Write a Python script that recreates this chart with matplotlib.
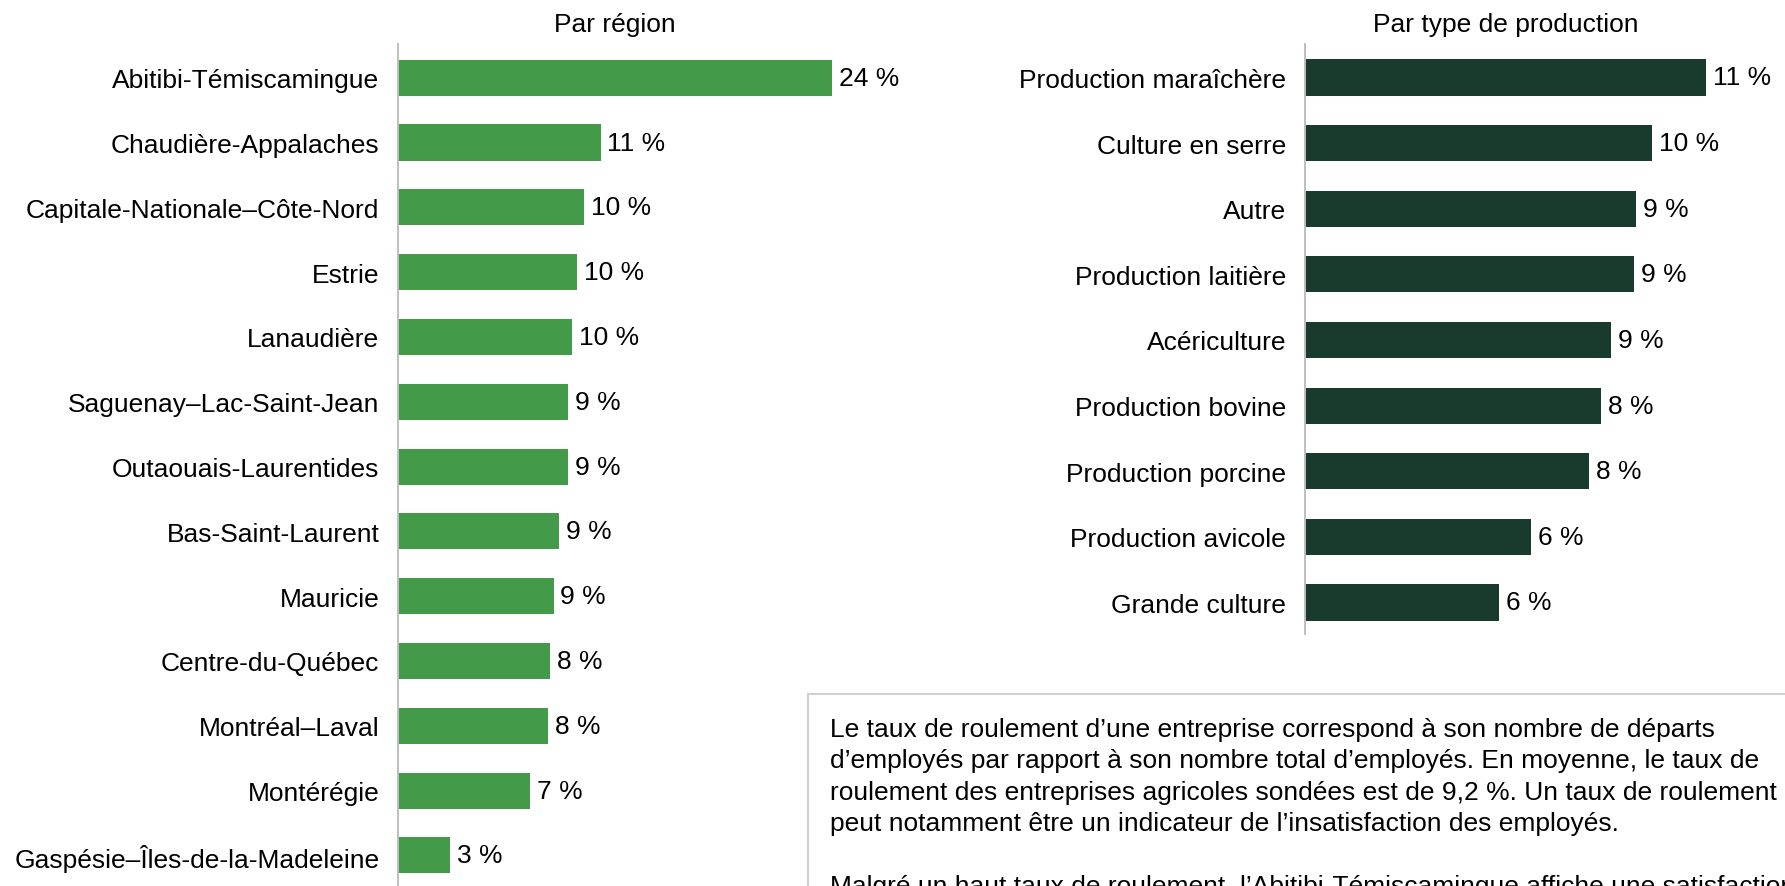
import matplotlib
matplotlib.use("Agg")
import matplotlib.pyplot as plt
from matplotlib.patches import Rectangle

plt.rcParams['font.family'] = ['Liberation Sans', 'DejaVu Sans']

regions = ["Abitibi-Témiscamingue", "Chaudière-Appalaches", "Capitale-Nationale–Côte-Nord",
           "Estrie", "Lanaudière", "Saguenay–Lac-Saint-Jean", "Outaouais-Laurentides",
           "Bas-Saint-Laurent", "Mauricie", "Centre-du-Québec", "Montréal–Laval",
           "Montérégie", "Gaspésie–Îles-de-la-Madeleine"]
region_values = [24.0, 11.2, 10.3, 9.9, 9.6, 9.4, 9.4, 8.9, 8.6, 8.4, 8.3, 7.3, 2.9]
region_labels = ["24 %", "11 %", "10 %", "10 %", "10 %", "9 %", "9 %", "9 %", "9 %",
                 "8 %", "8 %", "7 %", "3 %"]

productions = ["Production maraîchère", "Culture en serre", "Autre", "Production laitière",
               "Acériculture", "Production bovine", "Production porcine",
               "Production avicole", "Grande culture"]
production_values = [11.45, 9.9, 9.45, 9.4, 8.75, 8.45, 8.1, 6.45, 5.55]
production_labels = ["11 %", "10 %", "9 %", "9 %", "9 %", "8 %", "8 %", "6 %", "6 %"]

note_lines = [
    "Le taux de roulement d’une entreprise correspond à son nombre de départs",
    "d’employés par rapport à son nombre total d’employés. En moyenne, le taux de",
    "roulement des entreprises agricoles sondées est de 9,2 %. Un taux de roulement",
    "peut notamment être un indicateur de l’insatisfaction des employés.",
    "",
    "Malgré un haut taux de roulement, l’Abitibi-Témiscamingue affiche une satisfaction",
]

W, H = 1785, 887
fig = plt.figure(figsize=(W / 100, H / 100), dpi=100)

FS = 19
AXIS_COLOR = "#BFBFBF"


def px_axes(x0, y_top, x1, y_bot):
    return fig.add_axes([x0 / W, (H - y_bot) / H, (x1 - x0) / W, (y_bot - y_top) / H])


def draw(ax, cats, vals, labels, color, ylim, height):
    y = list(range(len(cats)))
    ax.barh(y, vals, height=height, color=color, zorder=2)
    ax.set_xlim(0, max(vals))
    ax.set_ylim(*ylim)
    ax.set_yticks(y)
    ax.set_yticklabels(cats, fontsize=FS, color="black")
    ax.tick_params(axis="y", length=0, pad=13.5)
    ax.set_xticks([])
    for s in ["top", "right", "bottom"]:
        ax.spines[s].set_visible(False)
    ax.spines["left"].set_color(AXIS_COLOR)
    ax.spines["left"].set_linewidth(1.4)
    ax.spines["left"].set_zorder(3)
    for yi, v, lab in zip(y, vals, labels):
        ax.annotate(lab, (v, yi), xytext=(5, 0), textcoords="offset points",
                    ha="left", va="center", fontsize=FS, color="black",
                    annotation_clip=False)


ax1 = px_axes(398, 45, 832, 892)
draw(ax1, regions, region_values, region_labels, "#439A48", (12.55, -0.52), 0.556)
fig.text(615 / W, (H - 25) / H, "Par région", ha="center", va="center", fontsize=FS)

ax2 = px_axes(1305, 45, 1706, 635)
draw(ax2, productions, production_values, production_labels, "#183B2E", (8.48, -0.51), 0.55)
fig.text(1506 / W, (H - 25) / H, "Par type de production", ha="center", va="center", fontsize=FS)

# note box
box = Rectangle((808 / W, -0.05), 1.1, (H - 695) / H + 0.05, transform=fig.transFigure,
                facecolor="white", edgecolor="#D0D0D0", linewidth=1.5, zorder=0)
fig.patches.append(box)
y0 = 730
for i, line in enumerate(note_lines):
    if line:
        fig.text(830 / W, (H - (y0 + i * 31.5)) / H, line, ha="left", va="center",
                 fontsize=19, color="black")

fig.savefig("out.png", dpi=100)
